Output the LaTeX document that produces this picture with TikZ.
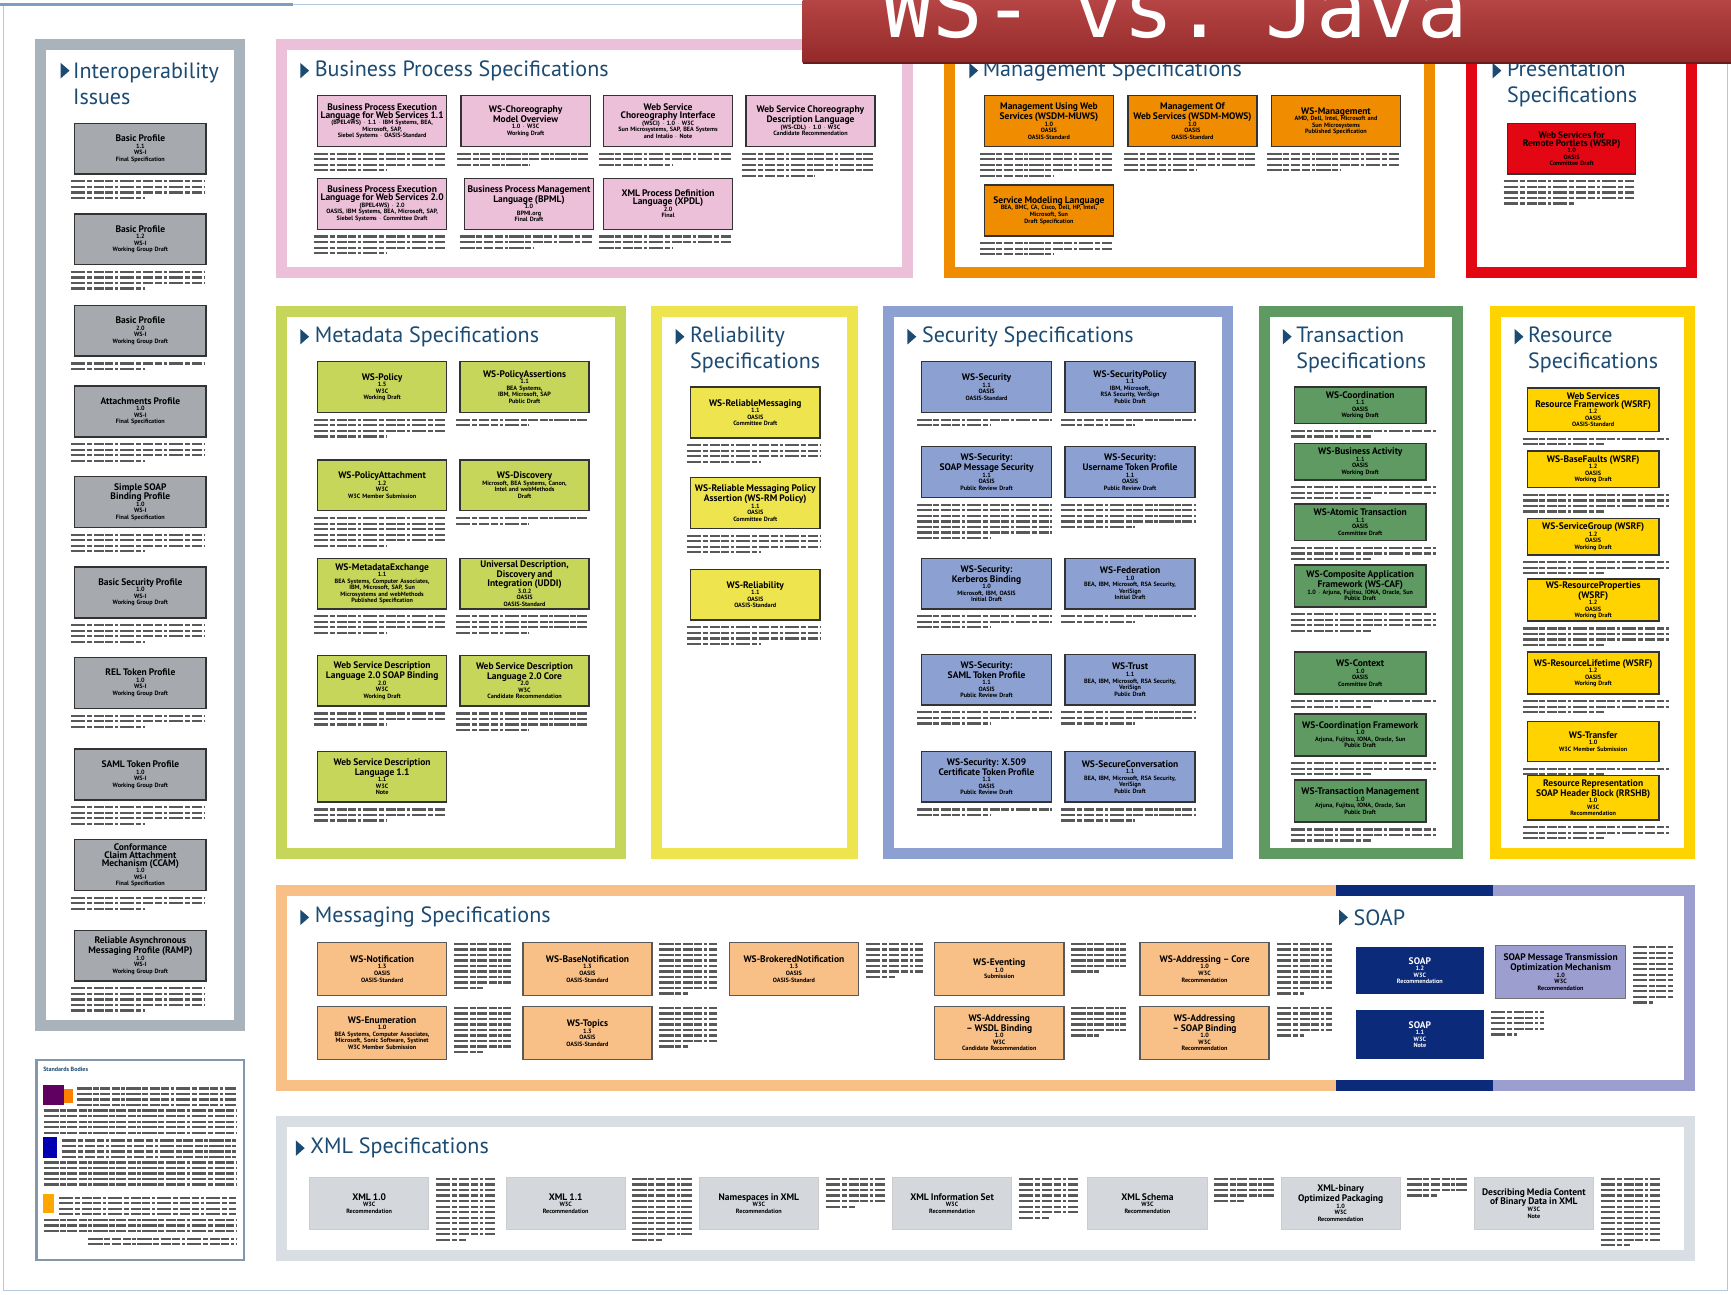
\documentclass[tikz,border=0pt]{standalone}
\usepackage{fontspec}
\setmainfont{PT Sans}
\newfontfamily\bannerfont{DejaVu Sans Mono}
\usepackage{tikz}
\hyphenpenalty=10000
\exhyphenpenalty=10000

\definecolor{headblue}{HTML}{1B4A72}
\definecolor{framelight}{HTML}{B3C8DD}
\definecolor{frameblue}{HTML}{7E9EC0}
\definecolor{bannerred}{HTML}{AE3030}
\definecolor{iogray}{HTML}{A9B3BB}
\definecolor{iobox}{HTML}{A6AAAF}
\definecolor{bppink}{HTML}{EBC0D8}
\definecolor{mgorange}{HTML}{F08C00}
\definecolor{prred}{HTML}{E30613}
\definecolor{mdgreen}{HTML}{C6D65A}
\definecolor{rlyellow}{HTML}{EEE44E}
\definecolor{scblue}{HTML}{8CA1D2}
\definecolor{trgreen}{HTML}{5E9A62}
\definecolor{rsgold}{HTML}{FFD300}
\definecolor{msorange}{HTML}{F8BF86}
\definecolor{soapnavy}{HTML}{0C2A7A}
\definecolor{soaplav}{HTML}{9D9ED0}
\definecolor{xmlgray}{HTML}{D8DEE4}
\definecolor{xmlbox}{HTML}{D4D8DC}
\definecolor{legendblue}{HTML}{8397AD}

\newcommand{\bt}[1]{{\fontsize{8.6}{9}\selectfont #1}\\}
\newcommand{\hmark}[2]{\fill[headblue] (#1,#2-7) -- ++(8,7) -- ++(-8,7) -- cycle;}
% text lines under a box
\newcommand{\blurb}[3]{%
  \foreach \k in {1,...,#2}{%
    \pgfmathsetmacro{\len}{ifthenelse(\k==#2,0.55*#3,#3)}%
    \draw[desc] ([xshift=-3pt,yshift={-1pt-5pt*\k}]#1.south west) -- ++(\len,0);}}
% text lines beside a box
\newcommand{\sideblurb}[3]{%
  \foreach \k in {1,...,#2}{%
    \pgfmathsetmacro{\len}{ifthenelse(\k==#2,0.5*#3,#3)}%
    \draw[desc] ([xshift=6pt,yshift={3pt-5pt*\k}]#1.north east) -- ++(\len,0);}}

\begin{document}
\begin{tikzpicture}[x=1pt, y=-1pt,
    panel/.style={line width=10pt, fill=white},
    spec/.style={draw=black!80, line width=1.3pt, anchor=north west,
      minimum width=117pt, minimum height=46pt, text width=113pt,
      align=center, inner sep=1pt, font=\bfseries\fontsize{5.6}{5.9}\selectfont},
    heading/.style={anchor=west, align=left, inner sep=0pt, text=headblue,
      font=\fontsize{20}{24}\selectfont},
    desc/.style={line width=2pt, black!65,
      dash pattern=on 13pt off 1.5pt on 5pt off 1.5pt on 9pt off 1.5pt on 7pt off 1.5pt on 3pt off 1.5pt}]
  \useasboundingbox (0,0) rectangle (1568,1173);
  \fill[white] (0,0) rectangle (1568,1173);

  % outer frame
  \draw[framelight, line width=1.2pt] (3,4) rectangle (1565,1169);
  \draw[frameblue, line width=2.5pt] (0,4) -- (265,4);

  % panels
  \draw[panel, draw=iogray] (37,40) rectangle (217,929);
  \draw[panel, draw=bppink] (255,40) rectangle (822,247);
  \draw[panel, draw=mgorange] (860,40) rectangle (1295,247);
  \draw[panel, draw=prred] (1333,40) rectangle (1532,247);
  \draw[panel, draw=mdgreen] (255,282) rectangle (562,773);
  \draw[panel, draw=rlyellow] (595,282) rectangle (772,773);
  \draw[panel, draw=scblue] (805,282) rectangle (1112,773);
  \draw[panel, draw=trgreen] (1145,282) rectangle (1320,773);
  \draw[panel, draw=rsgold] (1355,282) rectangle (1530,773);
  \draw[panel, draw=xmlgray] (255,1016) rectangle (1530,1137);

  % messaging frame with SOAP part
  \fill[msorange] (250,802) rectangle (1210,812);
  \fill[msorange] (250,978) rectangle (1210,988);
  \fill[msorange] (250,802) rectangle (260,988);
  \fill[soapnavy] (1210,802) rectangle (1352,812);
  \fill[soapnavy] (1210,978) rectangle (1352,988);
  \fill[soaplav] (1352,802) rectangle (1535,812);
  \fill[soaplav] (1352,978) rectangle (1535,988);
  \fill[soaplav] (1525,802) rectangle (1535,988);

  % headings
  \hmark{55}{64}
  \node[heading] (hio) at (66,76) {Interoperability\\Issues};
  \hmark{272}{64}
  \node[heading] (hbp) at (285,64) {Business Process Specifications};
  \hmark{878}{64}
  \node[heading] (hmg) at (890,64) {Management Specifications};
  \hmark{1352}{64}
  \node[heading] (hpr) at (1365,76) {Presentation\\Specifications};
  \hmark{272}{305}
  \node[heading] (hmd) at (285,305) {Metadata Specifications};
  \hmark{612}{305}
  \node[heading] (hrl) at (625,317) {Reliability\\Specifications};
  \hmark{822}{305}
  \node[heading] (hsc) at (835,305) {Security Specifications};
  \hmark{1162}{305}
  \node[heading] (htr) at (1174,317) {Transaction\\Specifications};
  \hmark{1372}{305}
  \node[heading] (hrs) at (1384,317) {Resource\\Specifications};
  \hmark{272}{831}
  \node[heading] (hms) at (285,831) {Messaging Specifications};
  \hmark{1213}{831}
  \node[heading] (hsoap) at (1226,831) {SOAP};
  \hmark{268}{1040}
  \node[heading] (hxml) at (281,1040) {XML Specifications};

  % interoperability issues
  \begin{scope}[spec/.append style={fill=iobox, minimum width=119pt}]
    \node[spec] (io1) at (67,111) {\bt{Basic Profile}1.1\\WS-I\\Final Specification};
    \node[spec] (io2) at (67,193) {\bt{Basic Profile}1.2\\WS-I\\Working Group Draft};
    \node[spec] (io3) at (67,276) {\bt{Basic Profile}2.0\\WS-I\\Working Group Draft};
    \node[spec] (io4) at (67,349) {\bt{Attachments Profile}1.0\\WS-I\\Final Specification};
    \node[spec] (io5) at (67,431) {\bt{Simple SOAP\\Binding Profile}1.0\\WS-I\\Final Specification};
    \node[spec] (io6) at (67,513) {\bt{Basic Security Profile}1.0\\WS-I\\Working Group Draft};
    \node[spec] (io7) at (67,595) {\bt{REL Token Profile}1.0\\WS-I\\Working Group Draft};
    \node[spec] (io8) at (67,678) {\bt{SAML Token Profile}1.0\\WS-I\\Working Group Draft};
    \node[spec] (io9) at (67,760) {\bt{Conformance Claim Attachment Mechanism (CCAM)}1.0\\WS-I\\Final Specification};
    \node[spec] (io10) at (67,842) {\bt{Reliable Asynchronous Messaging Profile (RAMP)}1.0\\WS-I\\Working Group Draft};
  \end{scope}
  \blurb{io1}{4}{122} \blurb{io2}{4}{122} \blurb{io3}{2}{122} \blurb{io4}{4}{122}
  \blurb{io5}{4}{122} \blurb{io6}{4}{122} \blurb{io7}{3}{122} \blurb{io8}{4}{122}
  \blurb{io9}{3}{122} \blurb{io10}{5}{122}

  % business process
  \begin{scope}[spec/.append style={fill=bppink}]
    \node[spec] (bp1) at (287,86) {\bt{Business Process Execution Language for Web Services 1.1}(BPEL4WS) $\cdot$ 1.1 $\cdot$ IBM Systems, BEA,\\Microsoft, SAP,\\Siebel Systems $\cdot$ OASIS-Standard};
    \node[spec] (bp2) at (417,86) {\bt{WS-Choreography Model Overview}1.0 $\cdot$ W3C\\Working Draft};
    \node[spec] (bp3) at (546,86) {\bt{Web Service Choreography Interface}(WSCI) $\cdot$ 1.0 $\cdot$ W3C\\Sun Microsystems, SAP, BEA Systems\\and Intalio $\cdot$ Note};
    \node[spec] (bp4) at (675,86) {\bt{Web Service Choreography Description Language}(WS-CDL) $\cdot$ 1.0 $\cdot$ W3C\\Candidate Recommendation};
    \node[spec] (bp5) at (287,161) {\bt{Business Process Execution Language for Web Services 2.0}(BPEL4WS) $\cdot$ 2.0\\OASIS, IBM Systems, BEA, Microsoft, SAP,\\Siebel Systems $\cdot$ Committee Draft};
    \node[spec] (bp6) at (420,161) {\bt{Business Process Management Language (BPML)}1.0\\BPMI.org\\Final Draft};
    \node[spec] (bp7) at (546,161) {\bt{XML Process Definition Language (XPDL)}2.0\\Final};
  \end{scope}
  \blurb{bp1}{4}{120} \blurb{bp2}{3}{120} \blurb{bp3}{3}{120} \blurb{bp4}{5}{120}
  \blurb{bp5}{4}{120} \blurb{bp6}{3}{120} \blurb{bp7}{3}{120}

  % management
  \begin{scope}[spec/.append style={fill=mgorange}]
    \node[spec] (mg1) at (891,86) {\bt{Management Using Web Services (WSDM-MUWS)}1.0\\OASIS\\OASIS-Standard};
    \node[spec] (mg2) at (1021,86) {\bt{Management Of\\Web Services (WSDM-MOWS)}1.0\\OASIS\\OASIS-Standard};
    \node[spec] (mg3) at (1151,86) {\bt{WS-Management}AMD, Dell, Intel, Microsoft and\\Sun Microsystems\\Published Specification};
    \node[spec] (mg4) at (891,167) {\bt{Service Modeling Language}BEA, BMC, CA, Cisco, Dell, HP, Intel,\\Microsoft, Sun\\Draft Specification};
  \end{scope}
  \blurb{mg1}{5}{120} \blurb{mg2}{4}{120} \blurb{mg3}{4}{120} \blurb{mg4}{3}{120}

  % presentation
  \node[spec, fill=prred, minimum width=116pt] (pr1) at (1365,111) {\bt{Web Services for Remote Portlets (WSRP)}1.0\\OASIS\\Committee Draft};
  \blurb{pr1}{5}{118}

  % metadata
  \begin{scope}[spec/.append style={fill=mdgreen}]
    \node[spec] (md1) at (287,327) {\bt{WS-Policy}1.5\\W3C\\Working Draft};
    \node[spec] (md2) at (416,327) {\bt{WS-PolicyAssertions}1.1\\BEA Systems,\\IBM, Microsoft, SAP\\Public Draft};
    \node[spec] (md3) at (287,416) {\bt{WS-PolicyAttachment}1.2\\W3C\\W3C Member Submission};
    \node[spec] (md4) at (416,416) {\bt{WS-Discovery}Microsoft, BEA Systems, Canon,\\Intel and webMethods\\Draft};
    \node[spec] (md5) at (287,505) {\bt{WS-MetadataExchange}1.1\\BEA Systems, Computer Associates,\\IBM, Microsoft, SAP, Sun Microsystems and webMethods\\Published Specification};
    \node[spec] (md6) at (416,505) {\bt{Universal Description, Discovery and Integration (UDDI)}3.0.2\\OASIS\\OASIS-Standard};
    \node[spec] (md7) at (287,593) {\bt{Web Service Description Language 2.0 SOAP Binding}2.0\\W3C\\Working Draft};
    \node[spec] (md8) at (416,593) {\bt{Web Service Description Language 2.0 Core}2.0\\W3C\\Candidate Recommendation};
    \node[spec] (md9) at (287,680) {\bt{Web Service Description Language 1.1}1.1\\W3C\\Note};
  \end{scope}
  \blurb{md1}{4}{120} \blurb{md2}{2}{120} \blurb{md3}{6}{120} \blurb{md4}{2}{120}
  \blurb{md5}{4}{120} \blurb{md6}{4}{120} \blurb{md7}{3}{120} \blurb{md8}{4}{120}
  \blurb{md9}{3}{120}

  % reliability
  \begin{scope}[spec/.append style={fill=rlyellow}]
    \node[spec] (rl1) at (625,350) {\bt{WS-ReliableMessaging}1.1\\OASIS\\Committee Draft};
    \node[spec] (rl2) at (625,432) {\bt{WS-Reliable Messaging Policy Assertion (WS-RM Policy)}1.1\\OASIS\\Committee Draft};
    \node[spec] (rl3) at (625,515) {\bt{WS-Reliability}1.1\\OASIS\\OASIS-Standard};
  \end{scope}
  \blurb{rl1}{4}{122} \blurb{rl2}{4}{122} \blurb{rl3}{4}{122}

  % security
  \begin{scope}[spec/.append style={fill=scblue, minimum width=118pt}]
    \node[spec] (sc1) at (834,327) {\bt{WS-Security}1.1\\OASIS\\OASIS-Standard};
    \node[spec] (sc2) at (964,327) {\bt{WS-SecurityPolicy}1.1\\IBM, Microsoft,\\RSA Security, VeriSign\\Public Draft};
    \node[spec] (sc3) at (834,404) {\bt{WS-Security:\\SOAP Message Security}1.1\\OASIS\\Public Review Draft};
    \node[spec] (sc4) at (964,404) {\bt{WS-Security:\\Username Token Profile}1.1\\OASIS\\Public Review Draft};
    \node[spec] (sc5) at (834,505) {\bt{WS-Security:\\Kerberos Binding}1.0\\Microsoft, IBM, OASIS\\Initial Draft};
    \node[spec] (sc6) at (964,505) {\bt{WS-Federation}1.0\\BEA, IBM, Microsoft, RSA Security,\\VeriSign\\Initial Draft};
    \node[spec] (sc7) at (834,592) {\bt{WS-Security:\\SAML Token Profile}1.1\\OASIS\\Public Review Draft};
    \node[spec] (sc8) at (964,592) {\bt{WS-Trust}1.1\\BEA, IBM, Microsoft, RSA Security,\\VeriSign\\Public Draft};
    \node[spec] (sc9) at (834,680) {\bt{WS-Security: X.509 Certificate Token Profile}1.1\\OASIS\\Public Review Draft};
    \node[spec] (sc10) at (964,680) {\bt{WS-SecureConversation}1.1\\BEA, IBM, Microsoft, RSA Security,\\VeriSign\\Public Draft};
  \end{scope}
  \blurb{sc1}{2}{122} \blurb{sc2}{2}{122} \blurb{sc3}{7}{122} \blurb{sc4}{5}{122}
  \blurb{sc5}{3}{122} \blurb{sc6}{2}{122} \blurb{sc7}{3}{122} \blurb{sc8}{3}{122}
  \blurb{sc9}{2}{122} \blurb{sc10}{3}{122}

  % transaction
  \begin{scope}[spec/.append style={fill=trgreen, minimum width=119pt, minimum height=33pt}]
    \node[spec] (tr1) at (1172,350) {\bt{WS-Coordination}1.1\\OASIS\\Working Draft};
    \node[spec] (tr2) at (1172,401) {\bt{WS-Business Activity}1.1\\OASIS\\Working Draft};
    \node[spec] (tr3) at (1172,456) {\bt{WS-Atomic Transaction}1.1\\OASIS\\Committee Draft};
    \node[spec, minimum height=38pt] (tr4) at (1172,511) {\bt{WS-Composite Application Framework (WS-CAF)}1.0 $\cdot$ Arjuna, Fujitsu, IONA, Oracle, Sun\\Public Draft};
    \node[spec, minimum height=38pt] (tr5) at (1172,590) {\bt{WS-Context}1.0\\OASIS\\Committee Draft};
    \node[spec, minimum height=38pt] (tr6) at (1172,646) {\bt{WS-Coordination Framework}1.0\\Arjuna, Fujitsu, IONA, Oracle, Sun\\Public Draft};
    \node[spec, minimum height=38pt] (tr7) at (1172,706) {\bt{WS-Transaction Management}1.0\\Arjuna, Fujitsu, IONA, Oracle, Sun\\Public Draft};
  \end{scope}
  \blurb{tr1}{2}{133} \blurb{tr2}{3}{133} \blurb{tr3}{3}{133} \blurb{tr4}{4}{133}
  \blurb{tr5}{2}{133} \blurb{tr6}{3}{133} \blurb{tr7}{3}{133}

  % resource
  \begin{scope}[spec/.append style={fill=rsgold, minimum width=119pt, minimum height=33pt}]
    \node[spec, minimum height=39pt] (rs1) at (1383,351) {\bt{Web Services\\Resource Framework (WSRF)}1.2\\OASIS\\OASIS-Standard};
    \node[spec] (rs2) at (1383,408) {\bt{WS-BaseFaults (WSRF)}1.2\\OASIS\\Working Draft};
    \node[spec] (rs3) at (1383,469) {\bt{WS-ServiceGroup (WSRF)}1.2\\OASIS\\Working Draft};
    \node[spec, minimum height=38pt] (rs4) at (1383,524) {\bt{WS-ResourceProperties (WSRF)}1.2\\OASIS\\Working Draft};
    \node[spec, minimum height=38pt] (rs5) at (1383,590) {\bt{WS-ResourceLifetime (WSRF)}1.2\\OASIS\\Working Draft};
    \node[spec, minimum height=36pt] (rs6) at (1383,653) {\bt{WS-Transfer}1.0\\W3C Member Submission};
    \node[spec, minimum height=40pt] (rs7) at (1383,702) {\bt{Resource Representation SOAP Header Block (RRSHB)}1.0\\W3C\\Recommendation};
  \end{scope}
  \blurb{rs1}{2}{133} \blurb{rs2}{4}{133} \blurb{rs3}{3}{133} \blurb{rs4}{4}{133}
  \blurb{rs5}{3}{133} \blurb{rs6}{2}{133} \blurb{rs7}{3}{133}

  % messaging
  \begin{scope}[spec/.append style={fill=msorange, draw=black!65, minimum height=48pt}]
    \node[spec] (ms1) at (287,853) {\bt{WS-Notification}1.3\\OASIS\\OASIS-Standard};
    \node[spec] (ms2) at (473,853) {\bt{WS-BaseNotification}1.3\\OASIS\\OASIS-Standard};
    \node[spec] (ms3) at (660,853) {\bt{WS-BrokeredNotification}1.3\\OASIS\\OASIS-Standard};
    \node[spec] (ms4) at (846,853) {\bt{WS-Eventing}1.0\\Submission};
    \node[spec] (ms5) at (1032,853) {\bt{WS-Addressing -- Core}1.0\\W3C\\Recommendation};
    \node[spec] (ms6) at (287,911) {\bt{WS-Enumeration}1.0\\BEA Systems, Computer Associates,\\Microsoft, Sonic Software, Systinet\\W3C Member Submission};
    \node[spec] (ms7) at (473,911) {\bt{WS-Topics}1.3\\OASIS\\OASIS-Standard};
    \node[spec] (ms8) at (846,911) {\bt{WS-Addressing -- WSDL Binding}1.0\\W3C\\Candidate Recommendation};
    \node[spec] (ms9) at (1032,911) {\bt{WS-Addressing -- SOAP Binding}1.0\\W3C\\Recommendation};
  \end{scope}
  \sideblurb{ms1}{9}{52} \sideblurb{ms2}{10}{52} \sideblurb{ms3}{7}{52}
  \sideblurb{ms4}{6}{50} \sideblurb{ms5}{10}{50} \sideblurb{ms6}{9}{52}
  \sideblurb{ms7}{8}{52} \sideblurb{ms8}{6}{50} \sideblurb{ms9}{6}{50}

  % soap
  \node[spec, fill=soapnavy, draw=soapnavy, text=white, minimum width=114pt, minimum height=41pt] (soap1) at (1228,858) {\bt{SOAP}1.2\\W3C\\Recommendation};
  \node[spec, fill=soapnavy, draw=soapnavy, text=white, minimum width=114pt, minimum height=43pt] (soap2) at (1228,915) {\bt{SOAP}1.1\\W3C\\Note};
  \node[spec, fill=soaplav, draw=black!55, minimum width=118pt, minimum height=48pt] (mtom) at (1354,856) {\bt{SOAP Message Transmission Optimization Mechanism}1.0\\W3C\\Recommendation};
  \sideblurb{mtom}{11}{36} \sideblurb{soap2}{5}{48}

  % xml
  \begin{scope}[spec/.append style={fill=xmlbox, draw=black!20, line width=0.8pt, minimum width=108pt, minimum height=47pt, text width=104pt}]
    \node[spec] (xm1) at (280,1066) {\bt{XML 1.0}W3C\\Recommendation};
    \node[spec] (xm2) at (458,1066) {\bt{XML 1.1}W3C\\Recommendation};
    \node[spec] (xm3) at (633,1066) {\bt{Namespaces in XML}W3C\\Recommendation};
    \node[spec] (xm4) at (808,1066) {\bt{XML Information Set}W3C\\Recommendation};
    \node[spec] (xm5) at (985,1066) {\bt{XML Schema}W3C\\Recommendation};
    \node[spec] (xm6) at (1160,1066) {\bt{XML-binary Optimized Packaging}1.0\\W3C\\Recommendation};
    \node[spec] (xm7) at (1335,1066) {\bt{Describing Media Content of Binary Data in XML}W3C\\Note};
  \end{scope}
  \sideblurb{xm1}{12}{54} \sideblurb{xm2}{12}{54} \sideblurb{xm3}{6}{54}
  \sideblurb{xm4}{8}{54} \sideblurb{xm5}{5}{54} \sideblurb{xm6}{4}{54}
  \sideblurb{xm7}{13}{54}

  % standards bodies
  \draw[legendblue, line width=2pt] (33,960) rectangle (221,1141);
  \node[anchor=west, inner sep=0pt, text=headblue, font=\fontsize{5.5}{6}\selectfont\bfseries] (sb) at (39,969) {Standards Bodies};
  \fill[violet!75!black] (39,983) rectangle (58,1001);
  \fill[orange] (58,986) rectangle (66,999);
  \fill[blue!70!black] (39,1030) rectangle (52,1049);
  \fill[orange!70!yellow] (39,1082) rectangle (49,1099);
  \foreach \y in {986,991,996,1001} \draw[desc] (70,\y) -- (214,\y);
  \foreach \y in {1006,1011,1016,1021,1026} \draw[desc] (40,\y) -- (214,\y);
  \foreach \y in {1033,1038,1043,1048} \draw[desc] (56,\y) -- (214,\y);
  \foreach \y in {1053,1058,1063,1068,1073} \draw[desc] (40,\y) -- (214,\y);
  \foreach \y in {1085,1090,1095,1100} \draw[desc] (53,\y) -- (214,\y);
  \foreach \y in {1105,1110,1115} \draw[desc] (40,\y) -- (214,\y);
  \foreach \y in {1122,1127} \draw[desc] (80,\y) -- (214,\y);

  % banner
  \shade[top color=bannerred!90!white, bottom color=bannerred!85!black] (727,0) rectangle (1568,57);
  \draw[bannerred!60!black, line width=1.2pt] (727,57) -- (1568,57);
  \node[anchor=base west, inner sep=0pt, text=white, font=\bannerfont\fontsize{76}{76}\selectfont] (title) at (799,34) {WS-\kern-10pt{} vs.\kern-24pt{} Java};
\end{tikzpicture}
\end{document}
